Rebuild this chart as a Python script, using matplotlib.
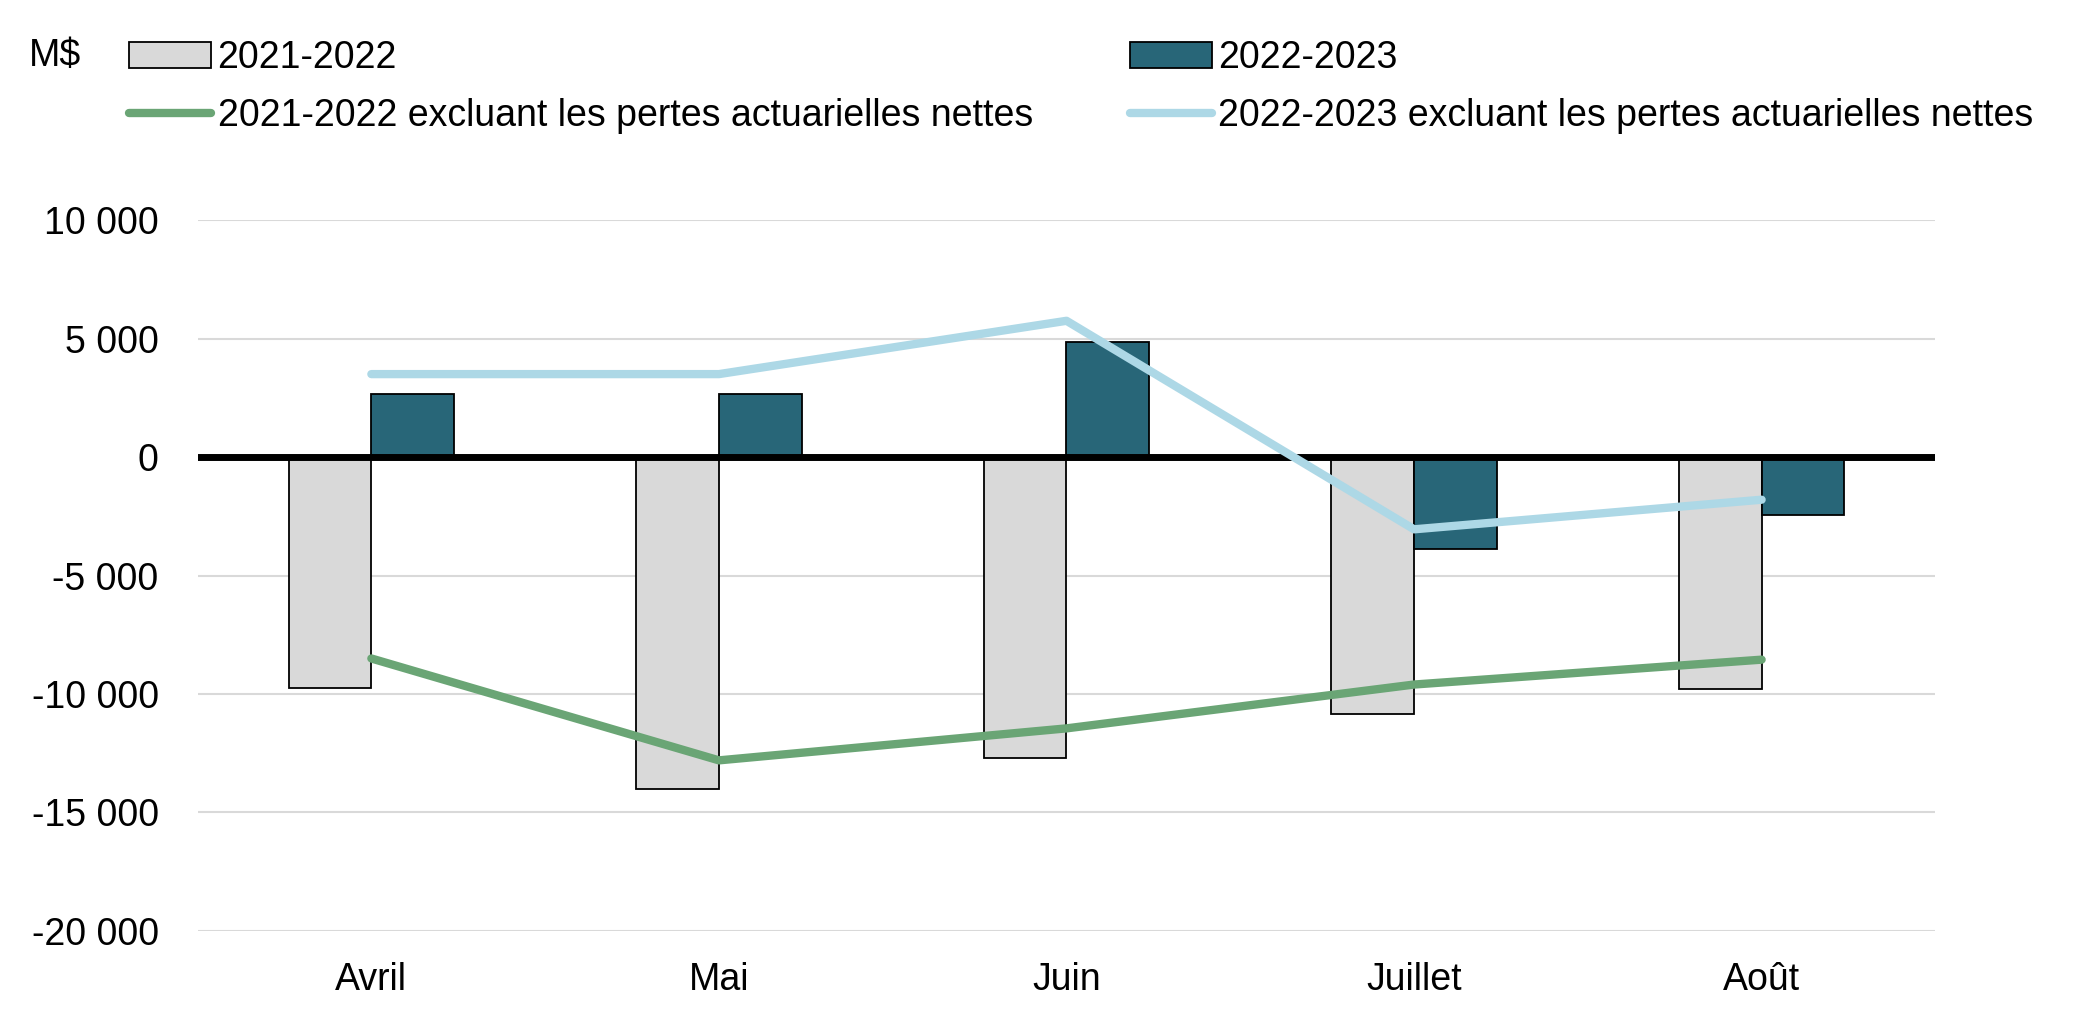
import numpy as np
import matplotlib
matplotlib.use("Agg")
import matplotlib.pyplot as plt
from matplotlib.ticker import FuncFormatter

plt.rcParams["font.family"] = ["Liberation Sans", "DejaVu Sans"]

# ── data (M$) ────────────────────────────────────────────────────────────────
months = ["Avril", "Mai", "Juin", "Juillet", "Août"]
bars_2122 = [-9750, -14000, -12700, -10850, -9800]
bars_2223 = [2650, 2650, 4850, -3900, -2450]
excl_2122 = [-8500, -12800, -11450, -9600, -8550]
excl_2223 = [3500, 3500, 5750, -3050, -1800]

lbl_2122 = "2021-2022"
lbl_2223 = "2022-2023"
lbl_ex_2122 = "2021-2022 excluant les pertes actuarielles nettes"
lbl_ex_2223 = "2022-2023 excluant les pertes actuarielles nettes"

# ── style ────────────────────────────────────────────────────────────────────
C_GREY = "#d9d9d9"
C_TEAL = "#286678"
C_GREEN = "#6aa575"
C_BLUE = "#add8e6"
FS = 27

fig = plt.figure(figsize=(20.93, 10.27), dpi=100)
ax = fig.add_axes([0.0944, 0.0935, 0.8303, 0.6922])

x = np.arange(len(months))
w = 0.238

b1 = ax.bar(x - w / 2, bars_2122, w, color=C_GREY, edgecolor="black", lw=1.3,
            label=lbl_2122, zorder=3)
b2 = ax.bar(x + w / 2, bars_2223, w, color=C_TEAL, edgecolor="black", lw=1.3,
            label=lbl_2223, zorder=3)
l1, = ax.plot(x, excl_2122, color=C_GREEN, lw=6, solid_capstyle="round",
              solid_joinstyle="round", label=lbl_ex_2122, zorder=5)
l2, = ax.plot(x, excl_2223, color=C_BLUE, lw=6, solid_capstyle="round",
              solid_joinstyle="round", label=lbl_ex_2223, zorder=5)

ax.axhline(0, color="black", lw=5, zorder=4)

ax.set_xlim(-0.5, len(months) - 0.5)
ax.set_ylim(-20000, 10000)
ax.set_yticks(np.arange(-20000, 10001, 5000))
ax.yaxis.set_major_formatter(FuncFormatter(lambda v, p: f"{v:,.0f}".replace(",", " ")))
ax.set_xticks(x)
ax.set_xticklabels(months)
ax.tick_params(axis="y", length=0, pad=28, labelsize=FS)
ax.tick_params(axis="x", length=0, pad=22, labelsize=FS)
ax.grid(axis="y", color="#d9d9d9", lw=1.5, zorder=0)
ax.set_axisbelow(True)
for s in ax.spines.values():
    s.set_visible(False)

fig.text(22 / 1568, 1 - 42 / 770, "M$", fontsize=FS, va="center", ha="left")

fig.legend([b1, l1, b2, l2], [lbl_2122, lbl_ex_2122, lbl_2223, lbl_ex_2223],
           loc="upper left", bbox_to_anchor=(97 / 1568, 1 - 30 / 770), ncol=2,
           frameon=False, fontsize=FS, borderpad=0, borderaxespad=0,
           handlelength=2.17, handletextpad=0.18, columnspacing=2.6,
           labelspacing=0.58)

fig.savefig("out.png", dpi=100)
